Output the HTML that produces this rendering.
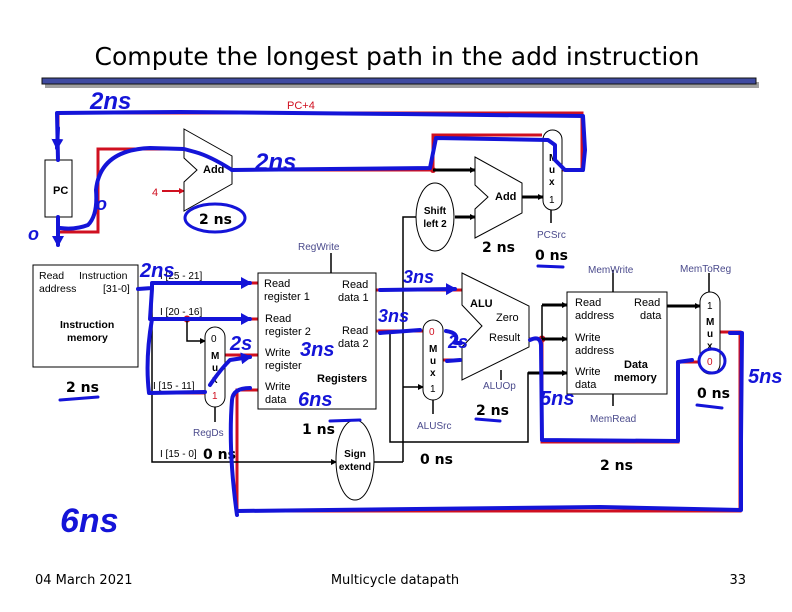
<!DOCTYPE html>
<html><head><meta charset="utf-8"><style>
html,body{margin:0;padding:0;background:#fff}
svg{display:block}
text{font-family:"Liberation Sans",Arial,sans-serif;font-size:11px;fill:#000}
.c{fill:#4a4a8c}
.r{fill:#d01020}
.b{font-weight:bold}
.h{fill:#1414d8;font-style:italic;font-weight:bold;font-family:"Liberation Sans",sans-serif}
.ns{font-family:"DejaVu Sans",sans-serif;font-weight:bold;font-size:14px}
</style></head><body>
<svg width="792" height="612" viewBox="0 0 792 612" xmlns="http://www.w3.org/2000/svg">
<defs>
<marker id="a" markerWidth="6" markerHeight="6" refX="5" refY="3" orient="auto" markerUnits="userSpaceOnUse"><path d="M0,0 L6,3 L0,6z" fill="#000"/></marker>
<marker id="ar" markerWidth="6" markerHeight="6" refX="5" refY="3" orient="auto" markerUnits="userSpaceOnUse"><path d="M0,0 L6,3 L0,6z" fill="#d01020"/></marker>
<marker id="ab" markerWidth="12" markerHeight="12" refX="9" refY="6" orient="auto" markerUnits="userSpaceOnUse"><path d="M0,0 L11,6 L0,12z" fill="#1414d8"/></marker>
</defs>
<!-- title -->
<text x="397" y="65" text-anchor="middle" textLength="605" lengthAdjust="spacingAndGlyphs" style="font-family:'DejaVu Sans',sans-serif;font-size:25px">Compute the longest path in the add instruction</text>
<rect x="45" y="82" width="714" height="6" fill="#a0a0a0"/>
<rect x="42" y="78" width="714" height="6" fill="#3f4aa0" stroke="#111" stroke-width="1"/>

<!-- red wires -->
<g stroke="#d01020" stroke-width="3" fill="none">
<path d="M58,160 L58,113 L582,113 L582,170 L562,170"/>
<path d="M58,217 L58,232 L98,232 L98,149 L184,149"/>
<path d="M232,170 L433,170 L433,135 L542,135"/>
<path d="M152,283 L258,283"/>
<path d="M152,319 L258,319"/>
<path d="M152,393 L205,393"/>
<path d="M376,290 L462,290"/>
<path d="M376,331 L423,331"/>
<path d="M443,360 L462,360"/>
<path d="M529,339 L542,339 L542,442 L678,442 L678,362 L700,362"/>
<path d="M720,332 L740,332 L740,511 L237,511 L237,390 L258,390"/>
<path d="M225,355 L258,355"/>
</g>
<circle cx="433" cy="170" r="3" fill="#d01020"/>
<circle cx="187" cy="319" r="3.5" fill="#d01020"/>
<circle cx="542" cy="339" r="3.5" fill="#d01020"/>
<path d="M162,191 L184,191" stroke="#d01020" stroke-width="2" marker-end="url(#ar)"/>

<!-- black wires -->
<g stroke="#000" fill="none" stroke-width="1.5">
<path d="M138,289 L152,289 L152,462 L336,462" marker-end="url(#a)"/>
<path d="M187,319 L187,341 L205,341" marker-end="url(#a)"/>
<path d="M403,462 L403,217 L416,217"/>
<path d="M374,462 L403,462"/>
<path d="M403,387 L423,387" marker-end="url(#a)"/>
<path d="M390,331 L390,442 L528,442 L528,373 L567,373" marker-end="url(#a)"/>
<path d="M542,305 L567,305" marker-end="url(#a)"/>
<path d="M542,339 L567,339" marker-end="url(#a)"/>
<path d="M542,305 L542,339"/>
<path d="M613,270 L613,292"/><path d="M613,394 L613,406"/>
<path d="M709,273 L709,292"/>
<path d="M331,253 L331,273"/>
<path d="M215,407 L215,422"/>
<path d="M433,400 L433,414"/>
<path d="M501,370 L501,380"/>
<path d="M551,210 L551,223"/>
</g>
<g stroke="#000" stroke-width="3" fill="none">
<path d="M433,170 L475,170" marker-end="url(#a)"/>
<path d="M455,217 L475,217" marker-end="url(#a)"/>
<path d="M522,197 L543,197" marker-end="url(#a)"/>
<path d="M667,306 L700,306" marker-end="url(#a)"/>
<path d="M542,305 L567,305"/><path d="M542,339 L567,339"/><path d="M528,373 L567,373"/>
</g>

<!-- components -->
<g fill="#fff" stroke="#000" stroke-width="1">
<rect x="45" y="160" width="27" height="57"/>
<path d="M184,129 L232,156 L232,184 L184,211 L184,182 L197,170 L184,158z"/>
<path d="M475,157 L522,183 L522,213 L475,238 L475,209 L488,197 L475,185z"/>
<rect x="543" y="130" width="19" height="80" rx="9.5"/>
<ellipse cx="435" cy="217" rx="19" ry="34"/>
<rect x="33" y="265" width="105" height="102"/>
<rect x="258" y="273" width="118" height="136"/>
<rect x="205" y="327" width="20" height="80" rx="10"/>
<ellipse cx="355" cy="460" rx="19" ry="40"/>
<rect x="423" y="320" width="20" height="80" rx="10"/>
<path d="M462,273 L529,306 L529,347 L462,380 L462,347 L482,326 L462,305z"/>
<rect x="567" y="292" width="100" height="102"/>
<rect x="700" y="292" width="20" height="82" rx="10"/>
</g>

<!-- labels -->
<text x="287" y="109" class="r">PC+4</text>
<text x="53" y="194" class="b">PC</text>
<text x="203" y="173" class="b">Add</text>
<text x="152" y="196" class="r">4</text>
<text x="495" y="200" class="b">Add</text>
<text x="549" y="161" class="b" style="font-size:10px">M</text>
<text x="549" y="173" class="b" style="font-size:10px">u</text>
<text x="549" y="185" class="b" style="font-size:10px">x</text>
<text x="549" y="203" style="font-size:10px">1</text>
<text x="435" y="214" class="b" text-anchor="middle" style="font-size:10px">Shift</text>
<text x="435" y="227" class="b" text-anchor="middle" style="font-size:10px">left 2</text>
<text x="537" y="238" class="c" style="font-size:10px">PCSrc</text>
<text x="298" y="250" class="c" style="font-size:10px">RegWrite</text>
<text x="39" y="279" style="font-size:10.5px">Read</text>
<text x="79" y="279" style="font-size:10.5px">Instruction</text>
<text x="39" y="292" style="font-size:10.5px">address</text>
<text x="103" y="292" style="font-size:10.5px">[31-0]</text>
<text x="60" y="328" class="b" style="font-size:10.5px">Instruction</text>
<text x="67" y="341" class="b" style="font-size:10.5px">memory</text>
<text x="160" y="279" style="font-size:10px">I [25 - 21]</text>
<text x="160" y="315" style="font-size:10px">I [20 - 16]</text>
<text x="153" y="389" style="font-size:10px">I [15 - 11]</text>
<text x="160" y="457" style="font-size:10px">I [15 - 0]</text>
<text x="211" y="342" style="font-size:10px">0</text>
<text x="211" y="359" class="b" style="font-size:10px">M</text>
<text x="212" y="371" class="b" style="font-size:10px">u</text>
<text x="212" y="383" class="b" style="font-size:10px">x</text>
<text x="212" y="399" class="r" style="font-size:10px">1</text>
<text x="193" y="436" class="c" style="font-size:10px">RegDs</text>
<text x="264" y="287">Read</text><text x="264" y="300">register 1</text>
<text x="342" y="288">Read</text><text x="338" y="301">data 1</text>
<text x="265" y="322">Read</text><text x="265" y="335">register 2</text>
<text x="342" y="334">Read</text><text x="338" y="347">data 2</text>
<text x="265" y="356">Write</text><text x="265" y="369">register</text>
<text x="317" y="382" class="b">Registers</text>
<text x="265" y="390">Write</text><text x="265" y="403">data</text>
<text x="355" y="457" class="b" text-anchor="middle" style="font-size:10px">Sign</text>
<text x="355" y="470" class="b" text-anchor="middle" style="font-size:10px">extend</text>
<text x="429" y="335" class="r" style="font-size:10px">0</text>
<text x="429" y="352" class="b" style="font-size:10px">M</text>
<text x="430" y="364" class="b" style="font-size:10px">u</text>
<text x="430" y="376" class="b" style="font-size:10px">x</text>
<text x="430" y="392" style="font-size:10px">1</text>
<text x="417" y="429" class="c" style="font-size:10px">ALUSrc</text>
<text x="470" y="307" class="b">ALU</text>
<text x="496" y="321">Zero</text>
<text x="489" y="341">Result</text>
<text x="483" y="389" class="c" style="font-size:10px">ALUOp</text>
<text x="575" y="306">Read</text><text x="575" y="319">address</text>
<text x="634" y="306">Read</text><text x="640" y="319">data</text>
<text x="575" y="341">Write</text><text x="575" y="354">address</text>
<text x="624" y="368" class="b">Data</text><text x="614" y="381" class="b">memory</text>
<text x="575" y="375">Write</text><text x="575" y="388">data</text>
<text x="588" y="273" class="c" style="font-size:10px">MemWrite</text>
<text x="590" y="422" class="c" style="font-size:10px">MemRead</text>
<text x="680" y="272" class="c" style="font-size:10px">MemToReg</text>
<text x="707" y="309" style="font-size:10px">1</text>
<text x="706" y="325" class="b" style="font-size:10px">M</text>
<text x="707" y="337" class="b" style="font-size:10px">u</text>
<text x="707" y="349" class="b" style="font-size:10px">x</text>
<text x="707" y="365" class="r" style="font-size:10px">0</text>

<!-- ns annotations (printed) -->
<text x="199" y="224" class="ns">2 ns</text>
<text x="482" y="252" class="ns">2 ns</text>
<text x="535" y="260" class="ns">0 ns</text>
<text x="66" y="392" class="ns">2 ns</text>
<text x="203" y="459" class="ns">0 ns</text>
<text x="302" y="434" class="ns">1 ns</text>
<text x="420" y="464" class="ns">0 ns</text>
<text x="476" y="415" class="ns">2 ns</text>
<text x="600" y="470" class="ns">2 ns</text>
<text x="697" y="398" class="ns">0 ns</text>

<!-- blue ink -->
<g stroke="#1414d8" stroke-width="4" fill="none" stroke-linecap="round" stroke-linejoin="round">
<path d="M58,160 L57,113 L180,112 L400,114 L583,116 L585,150 L583,170 L565,170 L555,160 L555,145 L548,140 L436,138 L430,168 L232,170"/>
<path d="M58,128 L57,148" marker-end="url(#ab)"/>
<path d="M58,217 L58,245" marker-end="url(#ab)"/>
<path d="M60,228 Q75,230 88,225 Q98,215 96,190 Q100,150 150,148 L184,149 L195,152 Q210,156 232,170"/>
<ellipse cx="215" cy="218" rx="30" ry="14" stroke-width="3"/>
<path d="M138,289 L152,288 L152,283 L250,283" marker-end="url(#ab)"/>
<path d="M152,289 L150,319 L250,319" marker-end="url(#ab)"/>
<path d="M152,319 Q145,360 149,393 L205,392"/>
<path d="M210,385 Q220,370 230,360 L250,357" marker-end="url(#ab)"/>
<path d="M237,515 Q228,450 232,400 Q233,388 250,388"/>
<path d="M237,511 L600,507 L741,510 L741,440 L742,333 L730,333"/>
<path d="M380,290 L455,289" marker-end="url(#ab)"/>
<path d="M380,333 L420,330"/>
<path d="M447,361 L460,360"/>
<path d="M446,331 Q460,333 455,342 Q452,343 461,343"/>
<path d="M530,340 Q540,335 541,345 L542,440 L678,441 L678,362 L692,360"/>
<path d="M360,420 L330,421" stroke-width="3"/>
<path d="M60,400 L98,397" stroke-width="3"/>
<path d="M538,266 L563,267" stroke-width="3"/>
<path d="M476,419 L500,421" stroke-width="3"/>
<path d="M697,405 L722,408" stroke-width="3"/>
<ellipse cx="712" cy="361" rx="13" ry="12" stroke-width="3"/>
</g>
<!-- handwritten -->
<text x="90" y="109" class="h" style="font-size:24px">2ns</text>
<text x="255" y="170" class="h" style="font-size:24px">2ns</text>
<text x="96" y="210" class="h" style="font-size:18px">o</text>
<text x="28" y="240" class="h" style="font-size:18px">o</text>
<text x="140" y="277" class="h" style="font-size:20px">2ns</text>
<text x="230" y="350" class="h" style="font-size:20px">2s</text>
<text x="300" y="356" class="h" style="font-size:20px">3ns</text>
<text x="298" y="406" class="h" style="font-size:20px">6ns</text>
<text x="403" y="283" class="h" style="font-size:18px">3ns</text>
<text x="378" y="322" class="h" style="font-size:18px">3ns</text>
<text x="448" y="348" class="h" style="font-size:18px">2s</text>
<text x="540" y="405" class="h" style="font-size:20px">5ns</text>
<text x="748" y="383" class="h" style="font-size:20px">5ns</text>
<text x="60" y="532" class="h" style="font-size:34px">6ns</text>

<!-- footer -->
<text x="35" y="584" style="font-family:'DejaVu Sans',sans-serif;font-size:13px">04 March 2021</text>
<text x="395" y="584" text-anchor="middle" style="font-family:'DejaVu Sans',sans-serif;font-size:13px">Multicycle datapath</text>
<text x="746" y="584" text-anchor="end" style="font-family:'DejaVu Sans',sans-serif;font-size:13px">33</text>
</svg>
</body></html>
